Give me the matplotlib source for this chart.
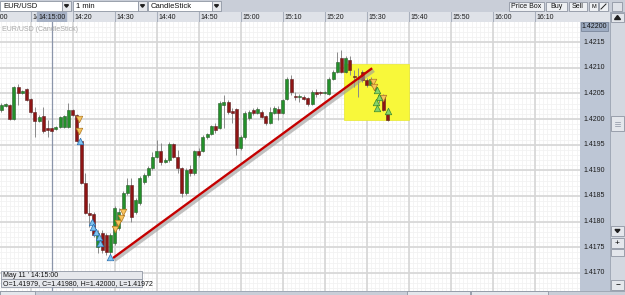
import numpy as np
import matplotlib.pyplot as plt
import matplotlib.patheffects as pe
from matplotlib.patches import Rectangle, Polygon

# EUR/USD one-minute candles, first candle at 14:03
start_minute = 3  # minutes after 14:00
open_ = [1.42018, 1.42026, 1.42027, 1.42000, 1.42062, 1.42051, 1.42059, 1.42039, 1.42014, 1.41996,
         1.42006, 1.41980, 1.41982, 1.41980, 1.41984, 1.41984, 1.41984, 1.42018, 1.42008, 1.41957,
         1.41875, 1.41817, 1.41815, 1.41750, 1.41778, 1.41774, 1.41741, 1.41758, 1.41787, 1.41822,
         1.41856, 1.41871, 1.41819, 1.41836, 1.41877, 1.41891, 1.41904, 1.41926, 1.41938, 1.41916,
         1.41920, 1.41951, 1.41926, 1.41904, 1.41856, 1.41903, 1.41895, 1.41938, 1.41938, 1.41965,
         1.41971, 1.41986, 1.41982, 1.42027, 1.42033, 1.42016, 1.42020, 1.41943, 1.41965, 1.42002,
         1.42018, 1.42012, 1.42014, 1.42006, 1.41992, 1.42012, 1.42020, 1.42012, 1.42039, 1.42078,
         1.42043, 1.42043, 1.42043, 1.42041, 1.42029, 1.42053, 1.42053, 1.42051, 1.42049, 1.42078,
         1.42092, 1.42119, 1.42092, 1.42115, 1.42084, 1.42080, 1.42092, 1.42076, 1.42066, 1.42057,
         1.42037, 1.42047, 1.42014]
high = [1.42031, 1.42031, 1.42029, 1.42064, 1.42068, 1.42057, 1.42060, 1.42041, 1.42023, 1.42008,
        1.42023, 1.41998, 1.41984, 1.41986, 1.42006, 1.42008, 1.42031, 1.42020, 1.42010, 1.41959,
        1.41895, 1.41836, 1.41819, 1.41784, 1.41784, 1.41778, 1.41778, 1.41830, 1.41826, 1.41860,
        1.41885, 1.41885, 1.41846, 1.41889, 1.41895, 1.41908, 1.41936, 1.41959, 1.41953, 1.41924,
        1.41955, 1.41953, 1.41940, 1.41906, 1.41904, 1.41910, 1.41940, 1.41943, 1.41969, 1.41973,
        1.41988, 1.41992, 1.42035, 1.42047, 1.42037, 1.42021, 1.42021, 1.41969, 1.42016, 1.42018,
        1.42021, 1.42023, 1.42018, 1.42008, 1.42023, 1.42025, 1.42025, 1.42039, 1.42082, 1.42086,
        1.42053, 1.42049, 1.42047, 1.42043, 1.42057, 1.42059, 1.42055, 1.42055, 1.42082, 1.42096,
        1.42131, 1.42135, 1.42123, 1.42123, 1.42096, 1.42099, 1.42096, 1.42080, 1.42082, 1.42066,
        1.42051, 1.42049, 1.42016]
low = [1.42014, 1.42023, 1.41998, 1.41998, 1.42027, 1.42049, 1.42035, 1.42012, 1.41965, 1.41994,
       1.41973, 1.41965, 1.41975, 1.41979, 1.41982, 1.41982, 1.41982, 1.42006, 1.41955, 1.41873,
       1.41815, 1.41789, 1.41770, 1.41739, 1.41739, 1.41735, 1.41735, 1.41754, 1.41784, 1.41819,
       1.41852, 1.41799, 1.41815, 1.41832, 1.41873, 1.41887, 1.41901, 1.41924, 1.41910, 1.41914,
       1.41916, 1.41924, 1.41895, 1.41848, 1.41852, 1.41889, 1.41891, 1.41926, 1.41936, 1.41961,
       1.41969, 1.41973, 1.41980, 1.41982, 1.42010, 1.41992, 1.41930, 1.41940, 1.41961, 1.41998,
       1.42008, 1.42010, 1.42002, 1.41988, 1.41990, 1.42010, 1.41998, 1.42010, 1.42037, 1.42047,
       1.42037, 1.42033, 1.42037, 1.42025, 1.42027, 1.42043, 1.42047, 1.42049, 1.42047, 1.42076,
       1.42090, 1.42090, 1.42090, 1.42086, 1.42062, 1.42043, 1.42072, 1.42062, 1.42064, 1.42053,
       1.42031, 1.42016, 1.41996]
close = [1.42027, 1.42028, 1.42000, 1.42062, 1.42051, 1.42055, 1.42037, 1.42014, 1.41996, 1.42004,
         1.41977, 1.41979, 1.41977, 1.41984, 1.42004, 1.42006, 1.42018, 1.42008, 1.41957, 1.41875,
         1.41817, 1.41813, 1.41774, 1.41778, 1.41745, 1.41741, 1.41774, 1.41826, 1.41819, 1.41856,
         1.41871, 1.41809, 1.41842, 1.41885, 1.41891, 1.41904, 1.41926, 1.41938, 1.41916, 1.41920,
         1.41951, 1.41926, 1.41904, 1.41856, 1.41901, 1.41895, 1.41938, 1.41930, 1.41965, 1.41971,
         1.41986, 1.41979, 1.42031, 1.42033, 1.42014, 1.42012, 1.41943, 1.41965, 1.42012, 1.42014,
         1.42012, 1.42020, 1.42004, 1.41992, 1.42014, 1.42021, 1.42012, 1.42037, 1.42078, 1.42053,
         1.42042, 1.42043, 1.42039, 1.42029, 1.42053, 1.42049, 1.42050, 1.42053, 1.42078, 1.42092,
         1.42111, 1.42092, 1.42119, 1.42096, 1.42082, 1.42078, 1.42076, 1.42066, 1.42078, 1.42062,
         1.42047, 1.42018, 1.41998]

# signal markers (minutes after 14:00, price)
sell_t = [21.5, 21.5, 30.1, 30.8, 31.5, 32.0, 91.5, 91.7, 93.9]
sell_p = [1.42000, 1.41977, 1.41786, 1.41797, 1.41807, 1.41819, 1.42072, 1.42062, 1.42041]
buy_t = [21.7, 24.6, 24.8, 25.5, 26.3, 26.5, 28.9]
buy_p = [1.41957, 1.41799, 1.41789, 1.41780, 1.41770, 1.41758, 1.41731]
exit_t = [92.4, 92.9, 92.2, 92.4, 95.0]
exit_p = [1.42057, 1.42043, 1.42033, 1.42021, 1.42016]

# drawn objects
trend_t = [29.6, 91.3]
trend_p = [1.41729, 1.42099]
box_t = [84.6, 100.1]
box_p = [1.41998, 1.42107]

price_ticks = [1.4170, 1.4175, 1.4180, 1.4185, 1.4190, 1.4195, 1.4200, 1.4205, 1.4210, 1.4215]
time_ticks = [0, 10, 20, 30, 40, 50, 60, 70, 80, 90, 100, 110, 120, 130]
time_labels = ["14:00", "14:10", "14:20", "14:30", "14:40", "14:50", "15:00",
               "15:10", "15:20", "15:30", "15:40", "15:50", "16:00", "16:10"]
cursor_t = 15
cursor_label = "14:15:00"
info_lines = ["May 11 ' 14:15:00", "O=1.41979, C=1.41980, H=1.42000, L=1.41972"]

plt.rcParams["font.family"] = ["Liberation Sans", "DejaVu Sans"]
W, H = 625, 295
fig = plt.figure(figsize=(W / 100, H / 100), dpi=100)
fig.patch.set_facecolor("#c9ced8")

def fx(px):
    return px / W

def fy(py):
    return 1 - py / H

PL, PR, PT, PB = 0, 580, 22, 291
XMIN, XMAX = 2.69, 140.79
YMIN, YMAX = 1.416647, 1.421891

ax = fig.add_axes([fx(PL), fy(PB), fx(PR - PL), (PB - PT) / H])
ax.set_facecolor("white")
ax.set_xlim(XMIN, XMAX)
ax.set_ylim(YMIN, YMAX)
for s in ax.spines.values():
    s.set_visible(False)
ax.set_xticks([])
ax.set_yticks([])

# grid
for m in np.arange(0, 141, 1):
    ax.axvline(m, color="#f2f2f2", lw=0.6, zorder=0)
for p in np.arange(1.4166, 1.4219, 0.0001):
    ax.axhline(p, color="#f2f2f2", lw=0.6, zorder=0)
for m in time_ticks:
    ax.axvline(m, color="#d6d6d6", lw=1.2, zorder=0.5)
for p in price_ticks:
    ax.axhline(p, color="#d6d6d6", lw=1.2, zorder=0.5)
ax.axvline(cursor_t, color="#8b95aa", lw=0.9, zorder=0.6)

ax.text(0.004, 0.985, "EUR/USD (CandleStick)", transform=ax.transAxes, fontsize=5,
        color="#a8a8a8", va="top", ha="left")

# yellow price box
ax.add_patch(Rectangle((box_t[0], box_p[0]), box_t[1] - box_t[0], box_p[1] - box_p[0],
                       facecolor="#f8f83a", edgecolor="#e8e830", lw=0.5, zorder=1))

# candles
o = np.array(open_)
c = np.array(close)
t = start_minute + np.arange(len(o))
up = c >= o
ax.vlines(t, low, high, color="#8a8a8a", lw=0.7, zorder=2)
body = np.maximum(np.abs(c - o), 0.000025)
ax.bar(t[up], body[up], bottom=np.minimum(o, c)[up], width=0.72,
       color="#23902a", edgecolor="#2c5a2c", lw=0.4, zorder=3)
ax.bar(t[~up], body[~up], bottom=np.minimum(o, c)[~up], width=0.72,
       color="#8e1414", edgecolor="#5a2020", lw=0.4, zorder=3)

# trend line with shadow
ax.plot(trend_t, trend_p, color="#c40000", lw=1.7, zorder=4, solid_capstyle="butt",
        path_effects=[pe.SimpleLineShadow(offset=(1.2, -1.6), shadow_color="#9a9a9a",
                                          alpha=0.6, linewidth=2.6),
                      pe.Normal()])

# signal markers
ax.scatter(sell_t, sell_p, marker="v", s=22, color="#f7c35c", edgecolors="#b07820",
           linewidths=0.5, zorder=5)
ax.scatter(buy_t, buy_p, marker="^", s=22, color="#7cc4f2", edgecolors="#2c6fb0",
           linewidths=0.5, zorder=5)
ax.scatter(exit_t, exit_p, marker="^", s=22, color="#86d46a", edgecolors="#3c8a2c",
           linewidths=0.5, zorder=5)

# time header
hax = fig.add_axes([fx(PL), fy(PT), fx(PR - PL), 10 / H])
hax.set_facecolor("#dfe2e8")
hax.set_xlim(XMIN, XMAX)
hax.set_ylim(0, 1)
hax.set_xticks([])
hax.set_yticks([])
for s in hax.spines.values():
    s.set_visible(False)
for m, lab in zip(time_ticks, time_labels):
    hax.axvline(m, color="#a9b0bd", lw=0.8, zorder=1)
    hax.text(m + 0.45, 0.45, lab, fontsize=5, color="#1a1a1a", va="center", ha="left",
             clip_on=True, zorder=2)
hax.axvspan(cursor_t - 3.4, cursor_t + 3.4, color="#a6b1c5", zorder=4)
hax.text(cursor_t, 0.45, cursor_label, fontsize=5, color="#1a1a1a", va="center",
         ha="center", zorder=5)

# price axis panel
pax = fig.add_axes([fx(580), fy(PB), fx(30), (PB - PT) / H])
pax.set_facecolor("#bdc6d5")
pax.set_xlim(0, 1)
pax.set_ylim(YMIN, YMAX)
pax.set_xticks([])
pax.set_yticks([])
for s in pax.spines.values():
    s.set_visible(False)
for p in price_ticks:
    pax.text(0.47, p, f"{p:.4f}", fontsize=5, color="#1a1a1a", va="center", ha="center")

# chrome overlay in pixel coordinates
ui = fig.add_axes([0, 0, 1, 1], zorder=10)
ui.set_xlim(0, W)
ui.set_ylim(H, 0)
ui.axis("off")
ui.patch.set_alpha(0)

def box(x0, y0, x1, y1, fc, ec="#8f96a3", lw=0.6, z=1):
    ui.add_patch(Rectangle((x0, y0), x1 - x0, y1 - y0, facecolor=fc, edgecolor=ec, lw=lw, zorder=z))

def tri_down(cx, cy, w=4, h=2.5):
    ui.add_patch(Polygon([(cx - w / 2, cy - h / 2), (cx + w / 2, cy - h / 2), (cx, cy + h / 2)],
                         closed=True, color="#202020", zorder=3))

# top toolbar
for x0, x1, lab in [(0, 62, "EUR/USD"), (73, 138, "1 min"), (148, 212, "CandleStick")]:
    box(x0, 1, x1, 11, "white")
    box(x1, 1, x1 + 9, 11, "#e6e8ec")
    tri_down(x1 + 4.5, 6)
    ui.text(x0 + 3, 6.2, lab, fontsize=5.5, va="center", ha="left", color="#111111", zorder=4)
for x0, x1, lab in [(509, 544, "Price Box"), (546, 567, "Buy"), (569, 587, "Sell")]:
    box(x0, 2, x1, 11, "#eef0f3")
    ui.text((x0 + x1) / 2, 6.7, lab, fontsize=5, va="center", ha="center", color="#111111", zorder=4)
box(589, 2, 598, 11, "#eef0f3")
box(599, 2, 608, 11, "#eef0f3")
ui.plot([601, 606], [9, 4], color="#202020", lw=0.7, zorder=4)
ui.text(593.5, 6.7, "M", fontsize=4, va="center", ha="center", zorder=4)
box(612, 2, 622, 11, "#dfe2e8")

# price highlight
box(581, 22, 608, 31, "#9eacc2", ec="#7a869a")
ui.text(594.5, 26.8, "1.42200", fontsize=5, va="center", ha="center", color="#111111", zorder=4)
ui.add_patch(Rectangle((580, 12), 30, 10, facecolor="#dfe2e8", edgecolor="none", zorder=1))

# scrollbar
box(610, 12, 625, 291, "#d3d8e0", ec="#9aa2b0")
box(611, 13, 624, 22, "#e4e7ec")
ui.add_patch(Polygon([(614.5, 19.5), (620.5, 19.5), (617.5, 15.5)], color="#202020", zorder=3))
box(611, 116, 624, 131, "#e4e7ec")
for yy in (121.5, 123.5, 125.5):
    ui.plot([615, 620], [yy, yy], color="#8a92a0", lw=0.5, zorder=3)
box(611, 226, 624, 236, "#e4e7ec")
tri_down(617.5, 231, 5, 3)
box(611, 238, 624, 248, "#e4e7ec")
ui.text(617.5, 243, "+", fontsize=6, va="center", ha="center", zorder=4)
box(611, 249, 624, 256, "#e4e7ec")
box(611, 280, 624, 290, "#e4e7ec")
ui.text(617.5, 284.5, "−", fontsize=6, va="center", ha="center", zorder=4)

# bottom bar
box(0, 291, 625, 295, "#c9ced8", ec="#9aa2b0")
box(0, 291, 35, 295, "#e4e7ec")
box(407, 291, 470, 295, "#e4e7ec")
box(471, 291, 548, 295, "#e4e7ec")

# info box
box(1, 271, 142, 279, "#e6e8ec", ec="#8f96a3", z=5)
box(1, 279, 142, 287, "#e6e8ec", ec="#8f96a3", z=5)
ui.text(3, 275.2, info_lines[0], fontsize=5, va="center", ha="left", color="#111111", zorder=6)
ui.text(3, 283.2, info_lines[1], fontsize=5, va="center", ha="left", color="#111111", zorder=6)

fig.savefig("out.png", dpi=100)
